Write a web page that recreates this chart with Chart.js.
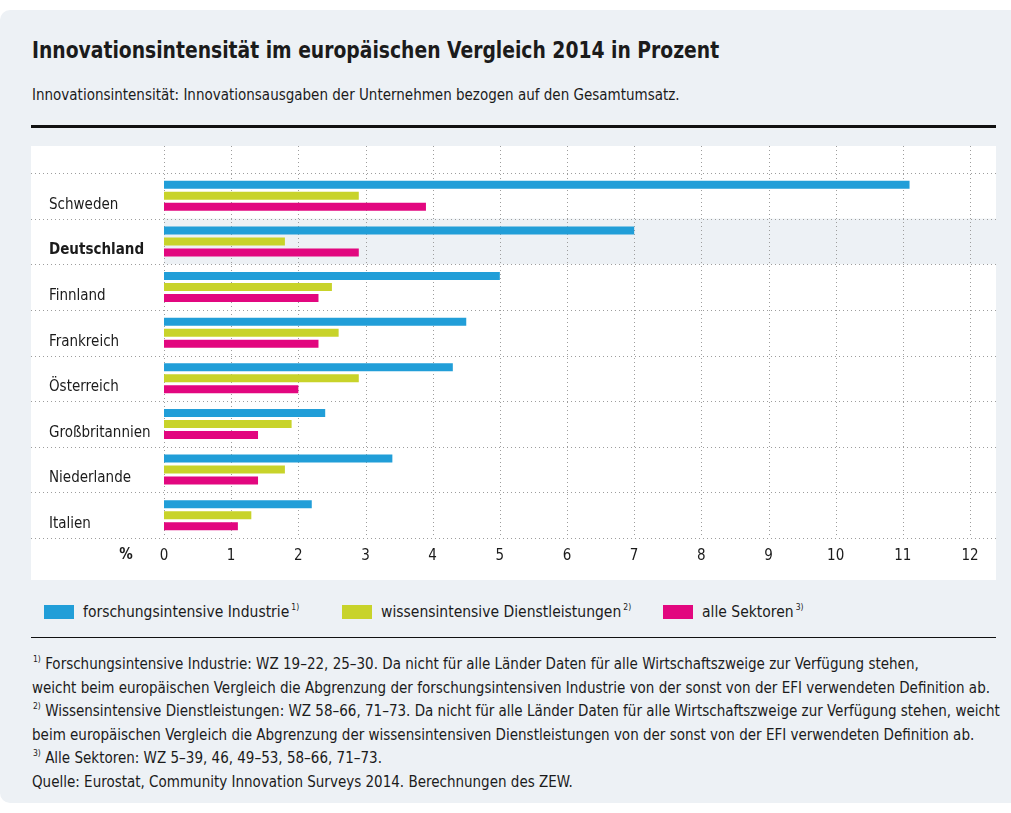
<!DOCTYPE html>
<html lang="de">
<head>
<meta charset="utf-8">
<title>Innovationsintensität im europäischen Vergleich 2014 in Prozent</title>
<script src="https://cdn.jsdelivr.net/npm/chart.js@4.4.1/dist/chart.umd.min.js"></script>
<style>
  body {
    margin: 0;
    width: 1011px;
    height: 813px;
    overflow: hidden;
    background: #fff;
    position: relative;
    color: #1b1b1b;
    font-family: "DejaVu Sans Condensed", "Roboto Condensed", "Liberation Sans Narrow", "DejaVu Sans", sans-serif;
  }
  #panel {
    position: absolute;
    left: 0; top: 10px;
    width: 1040px; height: 793px;
    background: #edf1f5;
    border-radius: 10px;
  }
  h1 {
    position: absolute;
    left: 32px; top: 35px;
    margin: 0;
    font-size: 23px;
    line-height: 30px;
    font-weight: bold;
    white-space: nowrap;
    transform: scaleX(0.906);
    transform-origin: left center;
  }
  #subtitle {
    position: absolute;
    left: 32px; top: 86px;
    font-size: 15px;
    line-height: 18px;
    white-space: nowrap;
  }
  .rule {
    position: absolute;
    left: 31px; width: 965px;
    background: #111;
  }
  #chartBox {
    position: absolute;
    left: 31px; top: 146px;
    width: 965px; height: 434px;
    background: #fff;
  }
  #legend {
    position: absolute;
    left: 44px; top: 602px;
    height: 20px;
    font-size: 15.5px;
    white-space: nowrap;
  }
  .item {
    position: absolute;
    top: 0;
    display: flex;
    align-items: center;
    height: 20px;
  }
  .swatch {
    width: 30px; height: 14px;
    margin-right: 9px;
  }
  sup {
    font-size: 8.5px;
    vertical-align: 7px;
    line-height: 0;
    margin-left: 1px;
  }
  .item sup {
    align-self: flex-start;
    margin-top: 5px;
    vertical-align: baseline;
    margin-left: 2px;
  }
  #notes {
    position: absolute;
    left: 32px; top: 653px;
    font-size: 15px;
    line-height: 23.6px;
    white-space: nowrap;
  }
</style>
</head>
<body>
<div id="panel"></div>
<h1>Innovationsintensität im europäischen Vergleich 2014 in Prozent</h1>
<div id="subtitle">Innovationsintensität: Innovationsausgaben der Unternehmen bezogen auf den Gesamtumsatz.</div>
<div class="rule" style="top:125px;height:3px"></div>
<div id="chartBox"><canvas id="intensity-chart"></canvas></div>
<div id="legend"></div>
<div class="rule" style="top:637px;height:1px"></div>
<div id="notes">
  <div><sup>1)</sup> Forschungsintensive Industrie: WZ 19–22, 25–30. Da nicht für alle Länder Daten für alle Wirtschaftszweige zur Verfügung stehen,</div>
  <div>weicht beim europäischen Vergleich die Abgrenzung der forschungsintensiven Industrie von der sonst von der EFI verwendeten Definition ab.</div>
  <div><sup>2)</sup> Wissensintensive Dienstleistungen: WZ 58–66, 71–73. Da nicht für alle Länder Daten für alle Wirtschaftszweige zur Verfügung stehen, weicht</div>
  <div>beim europäischen Vergleich die Abgrenzung der wissensintensiven Dienstleistungen von der sonst von der EFI verwendeten Definition ab.</div>
  <div><sup>3)</sup> Alle Sektoren: WZ 5–39, 46, 49–53, 58–66, 71–73.</div>
  <div>Quelle: Eurostat, Community Innovation Surveys 2014. Berechnungen des ZEW.</div>
</div>

<script>
// Countries, top to bottom
const countries = ["Schweden", "Deutschland", "Finnland", "Frankreich", "Österreich", "Großbritannien", "Niederlande", "Italien"];

// Innovation intensity in percent per sector
const forschungsintensiv = [11.1, 7.0, 5.0, 4.5, 4.3, 2.4, 3.4, 2.2];
const wissensintensiv    = [2.9, 1.8, 2.5, 2.6, 2.9, 1.9, 1.8, 1.3];
const alleSektoren       = [3.9, 2.9, 2.3, 2.3, 2.0, 1.4, 1.4, 1.1];

const seriesNames = ["forschungsintensive Industrie", "wissensintensive Dienstleistungen", "alle Sektoren"];
const seriesNotes = ["1)", "2)", "3)"];
const seriesColors = ["#219ed8", "#c8d32a", "#e2077f"];

// x axis range in percent
const xMin = 0;
const xMax = 12;
const xStep = 1;

const highlighted = "Deutschland";

const fontStack = getComputedStyle(document.body).fontFamily;
Chart.defaults.font.family = fontStack;

// Build the legend below the chart
const legend = document.getElementById("legend");
const legendX = [0, 298, 619];
seriesNames.forEach((name, i) => {
  const item = document.createElement("div");
  item.className = "item";
  item.style.left = legendX[i] + "px";
  item.innerHTML = `<span class="swatch" style="background:${seriesColors[i]}"></span>${name}<sup>${seriesNotes[i]}</sup>`;
  legend.appendChild(item);
});

// Row background for the highlighted country, dotted grid across the whole box, "%" unit label
const rowGrid = {
  id: "rowGrid",
  beforeDraw(chart) {
    const { ctx, chartArea, scales: { x, y } } = chart;
    const half = (y.getPixelForValue(1) - y.getPixelForValue(0)) / 2;
    ctx.save();

    const hi = countries.indexOf(highlighted);
    const yc = y.getPixelForValue(hi);
    ctx.fillStyle = "#edf1f5";
    ctx.fillRect(chartArea.left, yc - half, chart.width - chartArea.left, half * 2);

    ctx.strokeStyle = "#9d9d9d";
    ctx.lineWidth = 1;
    ctx.setLineDash([1, 3]);
    for (let i = 0; i <= countries.length; i++) {
      const py = Math.round(y.getPixelForValue(i) - half) + 0.5;
      ctx.beginPath();
      ctx.moveTo(0, py);
      ctx.lineTo(chart.width, py);
      ctx.stroke();
    }
    x.ticks.forEach(t => {
      const px = Math.round(x.getPixelForValue(t.value)) + 0.5;
      ctx.beginPath();
      ctx.moveTo(px, 0);
      ctx.lineTo(px, chartArea.bottom);
      ctx.stroke();
    });
    ctx.restore();
  },
  afterDraw(chart) {
    const { ctx, chartArea } = chart;
    ctx.save();
    ctx.font = `bold 15px ${fontStack}`;
    ctx.fillStyle = "#1b1b1b";
    ctx.textAlign = "center";
    ctx.textBaseline = "middle";
    ctx.fillText("%", chartArea.left - 38, chartArea.bottom + 17);
    ctx.restore();
  }
};

const datasets = [forschungsintensiv, wissensintensiv, alleSektoren].map((values, i) => ({
  label: seriesNames[i],
  data: values,
  backgroundColor: seriesColors[i],
  borderWidth: 0,
  categoryPercentage: 0.72,
  barPercentage: 0.73
}));

new Chart(document.getElementById("intensity-chart"), {
  type: "bar",
  data: { labels: countries, datasets: datasets },
  plugins: [rowGrid],
  options: {
    indexAxis: "y",
    responsive: true,
    maintainAspectRatio: false,
    animation: false,
    layout: { padding: { left: 18, top: 27, right: 26, bottom: 0 } },
    plugins: {
      legend: { display: false },
      tooltip: { enabled: false }
    },
    scales: {
      x: {
        min: xMin,
        max: xMax,
        grid: { display: false, drawTicks: false },
        border: { display: false },
        ticks: {
          stepSize: xStep,
          padding: 9,
          color: "#1b1b1b",
          font: { size: 15 }
        },
        afterFit(axis) { axis.height = 42; }
      },
      y: {
        grid: { display: false, drawTicks: false },
        border: { display: false },
        ticks: {
          crossAlign: "far",
          labelOffset: 9,
          color: "#1b1b1b",
          font: c => ({ size: 15, weight: countries[c.index] === highlighted ? "bold" : "normal" })
        },
        afterFit(axis) { axis.width = 115; }
      }
    }
  }
});
</script>
</body>
</html>
